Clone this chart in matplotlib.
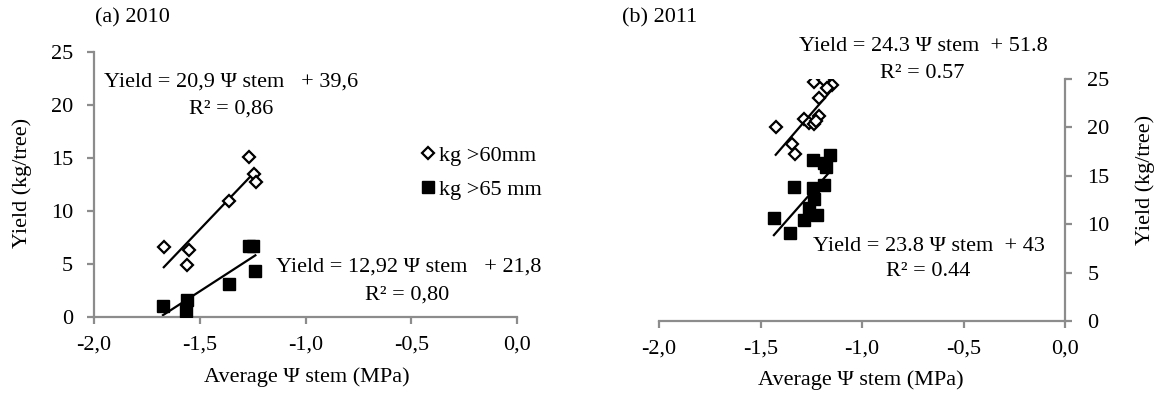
import matplotlib
matplotlib.use("Agg")
import matplotlib.pyplot as plt
import numpy as np

plt.rcParams['font.family'] = ['Liberation Serif', 'DejaVu Serif']

# ---- data (2010) ----
x60_2010 = [-1.67, -1.549, -1.561, -1.36, -1.268, -1.244, -1.233]
y60_2010 = [6.62, 6.30, 4.86, 10.98, 15.06, 13.49, 12.77]
x65_2010 = [-1.674, -1.56, -1.565, -1.363, -1.268, -1.246, -1.237]
y65_2010 = [1.07, 1.63, 0.53, 3.14, 6.71, 6.71, 4.36]
fit60_2010 = (20.9, 39.6)
fit65_2010 = (12.92, 21.8)

# ---- data (2011) ----
x60_2011 = [-1.425, -1.347, -1.332, -1.237, -1.187, -1.150, -1.172, -1.214,
            -1.285, -1.259, -1.236, -1.214, -1.227]
y60_2011 = [19.99, 18.30, 17.30, 24.69, 24.93, 24.41, 24.03, 23.03,
            20.86, 20.44, 20.37, 21.13, 20.61]
x65_2011 = [-1.434, -1.354, -1.336, -1.288, -1.263, -1.241, -1.237, -1.223,
            -1.186, -1.241, -1.187, -1.159, -1.177]
y65_2011 = [10.67, 9.05, 13.88, 10.43, 11.64, 13.71, 12.60, 10.95,
            14.05, 16.64, 16.30, 17.16, 15.95]
fit60_2011 = (24.3, 51.8)
fit65_2011 = (23.8, 43.0)

xticks = [-2.0, -1.5, -1.0, -0.5, 0.0]
xticklabels = ['-2,0', '-1,5', '-1,0', '-0,5', '0,0']
yticks = [0, 5, 10, 15, 20, 25]

FS = 16
GRAY = '#8c8c8c'
W, H = 1158, 399

fig = plt.figure(figsize=(W/100, H/100), dpi=100)
axL = fig.add_axes([94/W, 1-317/H, (517-94)/W, (317-52)/H])
axR = fig.add_axes([659/W, 1-321/H, (1065-659)/W, (321-79)/H])


def style(ax, side):
    for s in ['top', 'left', 'right', 'bottom']:
        ax.spines[s].set_visible(False)
    for s in ['bottom', side]:
        ax.spines[s].set_visible(True)
        ax.spines[s].set_color(GRAY)
        ax.spines[s].set_linewidth(1.6)
    ax.set_xlim(-2.0, 0.0)
    ax.set_ylim(0, 25)
    ax.set_xticks(xticks)
    ax.set_xticklabels(xticklabels)
    ax.set_yticks(yticks)
    ax.tick_params(axis='both', direction='out', length=5, width=1.6,
                   color=GRAY, labelsize=FS)
    ax.tick_params(axis='x', pad=8)
    if side == 'right':
        ax.yaxis.tick_right()
        ax.yaxis.set_label_position('right')
        ax.tick_params(axis='y', pad=11)
    else:
        ax.tick_params(axis='y', pad=10)
    ax.patch.set_alpha(0)


def fitline(ax, xs, fit):
    xs = np.array([min(xs), max(xs)])
    ax.plot(xs, fit[0]*xs + fit[1], color='black', lw=1.6, zorder=2)


def scatter(ax, x60, y60, x65, y65):
    ax.plot(x60, y60, linestyle='none', marker='D', ms=6.3, mfc='white',
            mec='black', mew=1.6, zorder=3, label='kg >60mm')
    ax.plot(x65, y65, linestyle='none', marker='s', ms=9.0, mfc='black',
            mec='black', zorder=3, label='kg >65 mm')


# left panel
style(axL, 'left')
scatter(axL, x60_2010, y60_2010, x65_2010, y65_2010)
fitline(axL, x60_2010, fit60_2010)
fitline(axL, x65_2010, fit65_2010)
axL.text(-1.35, 22.2, 'Yield = 20,9 \u03a8 stem   + 39,6', ha='center', va='center', fontsize=FS)
axL.text(-1.354, 19.6, 'R\u00b2 = 0,86', ha='center', va='center', fontsize=FS)
axL.text(-0.51, 4.67, 'Yield = 12,92 \u03a8 stem   + 21,8', ha='center', va='center', fontsize=FS, clip_on=False)
axL.text(-0.518, 2.1, 'R\u00b2 = 0,80', ha='center', va='center', fontsize=FS, clip_on=False)
leg = axL.legend(loc='center left', bbox_to_anchor=(-0.452, 13.63),
                 bbox_transform=axL.transData, frameon=False,
                 fontsize=FS, handlelength=0.6, handletextpad=0.2, labelspacing=0.6,
                 borderaxespad=0, borderpad=0)
fig.text(22/W, 1-183/H, 'Yield (kg/tree)', rotation=90, ha='center', va='center', fontsize=FS)
fig.text(307/W, 1-377/H, 'Average \u03a8 stem (MPa)', ha='center', va='center', fontsize=FS)
fig.text(95/W, 1-18/H, '(a) 2010', ha='left', va='center', fontsize=FS)

# right panel
style(axR, 'right')
scatter(axR, x60_2011, y60_2011, x65_2011, y65_2011)
fitline(axR, x60_2011, fit60_2011)
fitline(axR, x65_2011, fit65_2011)
axR.text(-0.697, 28.4, 'Yield = 24.3 \u03a8 stem  + 51.8', ha='center', va='center', fontsize=FS, clip_on=False)
axR.text(-0.702, 25.55, 'R\u00b2 = 0.57', ha='center', va='center', fontsize=FS, clip_on=False)
axR.text(-0.671, 7.73, 'Yield = 23.8 \u03a8 stem  + 43', ha='center', va='center', fontsize=FS)
axR.text(-0.675, 5.08, 'R\u00b2 = 0.44', ha='center', va='center', fontsize=FS)
fig.text(1145/W, 1-180/H, 'Yield (kg/tree)', rotation=90, ha='center', va='center', fontsize=FS)
fig.text(861/W, 1-380/H, 'Average \u03a8 stem (MPa)', ha='center', va='center', fontsize=FS)
fig.text(622/W, 1-18/H, '(b) 2011', ha='left', va='center', fontsize=FS)

fig.savefig('out.png', dpi=100)
